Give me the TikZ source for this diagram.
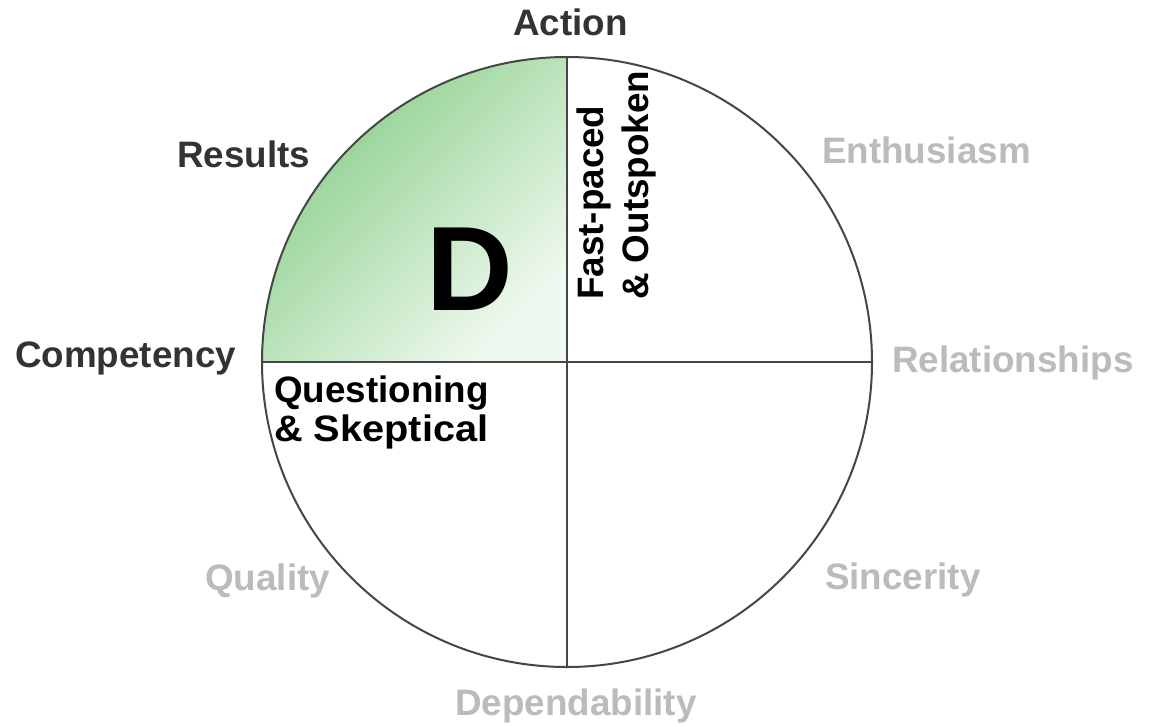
\documentclass[tikz,border=0pt]{standalone}
\usepackage{fontspec}
\setmainfont{Liberation Sans}
\definecolor{darklbl}{RGB}{51,51,51}
\definecolor{greylbl}{RGB}{187,187,187}
\definecolor{linecol}{RGB}{70,70,70}
\definecolor{dgreen}{RGB}{134,205,134}
\definecolor{lgreen}{RGB}{240,249,240}
\tikzset{
  lbl/.style={inner sep=0pt, anchor=base west, font=\fontsize{36.8}{40}\selectfont\bfseries},
  darklabel/.style={lbl, text=darklbl},
  greylabel/.style={lbl, text=greylbl},
  blacklabel/.style={lbl, text=black},
  rim/.style={draw=linecol, line width=2pt},
}
\begin{document}
\begin{tikzpicture}[x=1pt,y=-1pt]
\useasboundingbox[fill=white] (0,0) rectangle (1155,726);
\coordinate (C) at (567,362);
\coordinate (T) at (567,57);
\coordinate (B) at (567,667);
\coordinate (L) at (262,362);
\coordinate (R) at (872,362);
% shaded quadrant
\begin{scope}
  \clip (C) circle[radius=305pt];
  \shade[top color=dgreen, bottom color=lgreen, shading angle=45] (L |- T) rectangle (C);
\end{scope}
\draw[rim] (C) circle[radius=305pt];
\draw[rim] (T) -- (B);
\draw[rim] (L) -- (R);
% labels
\node[darklabel] (action) at (513,35) {Action};
\node[darklabel] (results) at (177,167) {Results};
\node[darklabel] (competency) at (15,367) {Competency};
\node[greylabel] (enthusiasm) at (822,163) {Enthusiasm};
\node[greylabel] (relationships) at (892,372) {Relationships};
\node[greylabel] (quality) at (205,590) {Quality};
\node[greylabel] (sincerity) at (825,589) {Sincerity};
\node[greylabel] (dependability) at (455,715) {Dependability};
\node[blacklabel] (quest1) at (274,402) {Questioning};
\node[blacklabel, xscale=1.08] (quest2) at (274,441) {\& Skeptical};
\node[blacklabel, rotate=90] (fast1) at (603,300) {Fast-paced};
\node[blacklabel, rotate=90] (fast2) at (648,300) {\& Outspoken};
\node[inner sep=0pt, anchor=base west, font=\fontsize{120}{126}\selectfont\bfseries] (D) at (426,310) {D};
\end{tikzpicture}
\end{document}
